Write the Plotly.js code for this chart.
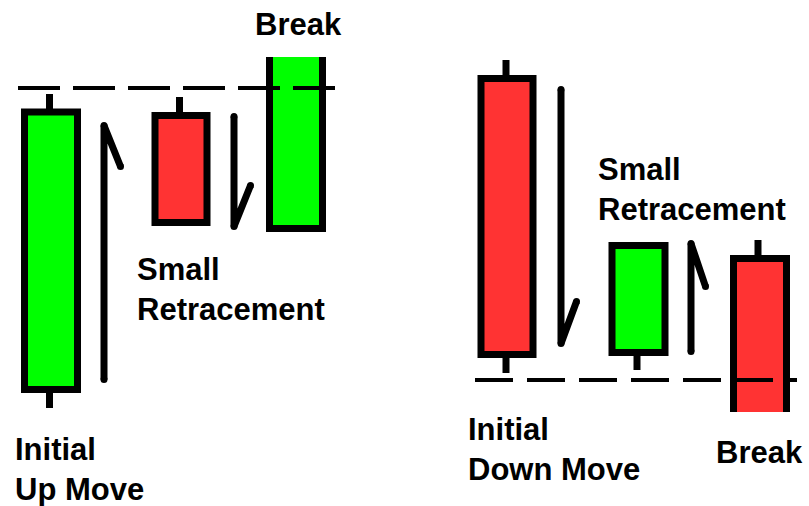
<!DOCTYPE html>
<html>
<head>
<meta charset="utf-8">
<script src="https://cdn.plot.ly/plotly-3.0.1.min.js"></script>
<style>html,body{margin:0;padding:0;background:#fff;}#chart{width:809px;height:506px;}</style>
</head>
<body>
<div id="chart"></div>
<script>
// Candles: time slot, open, close, high, low (price units)
var candleX     = [5.1, 18.1, 29.6, 50.7, 63.85, 76.0];
var candleOpen  = [4.5, 59.3, 36.7, 66.7, 11.9, 30.7];
var candleClose = [60.0, 37.9, 76.4, 11.5, 33.3, -5.6];
var candleHigh  = [63.6, 63.0, 76.4, 70.4, 33.3, 34.4];
var candleLow   = [0.8, 37.9, 36.7, 7.8, 8.4, -5.6];
var candleWidth = [5.3, 5.2, 5.3, 5.2, 5.3, 5.3];
var wickX       = [4.95, 17.95, 29.6, 50.6, 63.7, 75.8];

// Move arrows (hand-drawn strokes)
var arrowUpLeftX    = [10.4, 10.4, 12.05];
var arrowUpLeftY    = [6.5, 57.3, 49.1];
var arrowDownLeftX  = [23.4, 23.4, 25.05];
var arrowDownLeftY  = [59.1, 37.1, 45.3];
var arrowDownRightX = [56.1, 56.1, 57.65];
var arrowDownRightY = [64.5, 13.7, 22.1];
var arrowUpRightX   = [69.1, 69.1, 70.55];
var arrowUpRightY   = [12.1, 33.7, 25.1];

// Breakout levels
var resistanceX = [1.8, 33.6];
var resistanceLevel = 64.8;
var supportX = [47.5, 79.7];
var supportLevel = 6.4;

// Labels
var labels = ["Break", "Small<br>Retracement", "Initial<br>Up Move",
              "Small<br>Retracement", "Initial<br>Down Move", "Break"];

var GREEN = "#00ff00", RED = "#ff3333", INK = "#000000";

var wx = [], wy = [];
var base = [], height = [], colors = [];
for (var i = 0; i < candleX.length; i++) {
  var lo = Math.min(candleOpen[i], candleClose[i]);
  var hi = Math.max(candleOpen[i], candleClose[i]);
  if (candleHigh[i] > hi) { wx.push(wickX[i], wickX[i], null); wy.push(hi, candleHigh[i], null); }
  if (candleLow[i] < lo)  { wx.push(wickX[i], wickX[i], null); wy.push(candleLow[i], lo, null); }
  base.push(lo);
  height.push(hi - lo);
  colors.push(candleClose[i] >= candleOpen[i] ? GREEN : RED);
}

function stroke(xs, ys) {
  return {type: "scatter", mode: "lines+markers", x: xs, y: ys,
    line: {color: INK, width: 7}, marker: {color: INK, size: 7},
    hoverinfo: "skip", showlegend: false, cliponaxis: false};
}

var traces = [
  {type: "bar", x: candleX, y: height, base: base, width: candleWidth,
   marker: {color: colors, line: {color: INK, width: 7}},
   hoverinfo: "skip", showlegend: false},
  {type: "scatter", mode: "lines", x: wx, y: wy, line: {color: INK, width: 7},
   hoverinfo: "skip", showlegend: false},
  {type: "scatter", mode: "lines", x: resistanceX, y: [resistanceLevel, resistanceLevel],
   line: {color: INK, width: 4, dash: "42px,13px"}, hoverinfo: "skip", showlegend: false},
  {type: "scatter", mode: "lines", x: supportX, y: [supportLevel, supportLevel],
   line: {color: INK, width: 4, dash: "38px,14px"}, hoverinfo: "skip", showlegend: false},
  stroke(arrowUpLeftX, arrowUpLeftY),
  stroke(arrowDownLeftX, arrowDownLeftY),
  stroke(arrowDownRightX, arrowDownRightY),
  stroke(arrowUpRightX, arrowUpRightY)
];

var labelPos = [
  [0.314, 1.1437], [0.1681, 0.4535], [0.0173, -0.0535],
  [0.738, 0.7352], [0.5773, 0.0028], [0.8838, -0.062]
];
var annotations = labels.map(function (t, k) {
  return {text: "<b>" + t + "</b>", xref: "paper", yref: "paper",
    x: labelPos[k][0], y: labelPos[k][1], xanchor: "left", yanchor: "top",
    align: "left", showarrow: false, borderpad: 0,
    font: {family: "Liberation Sans, Arial, sans-serif", size: 31, color: INK}};
});

var layout = {
  width: 809, height: 506,
  margin: {l: 0, r: 0, t: 57, b: 94, pad: 0},
  paper_bgcolor: "#ffffff", plot_bgcolor: "#ffffff",
  barmode: "overlay", showlegend: false,
  xaxis: {range: [0, 80.9], visible: false, fixedrange: true},
  yaxis: {range: [0, 71], visible: false, fixedrange: true},
  annotations: annotations
};

Plotly.newPlot("chart", traces, layout, {displayModeBar: false, staticPlot: true});
</script>
</body>
</html>
